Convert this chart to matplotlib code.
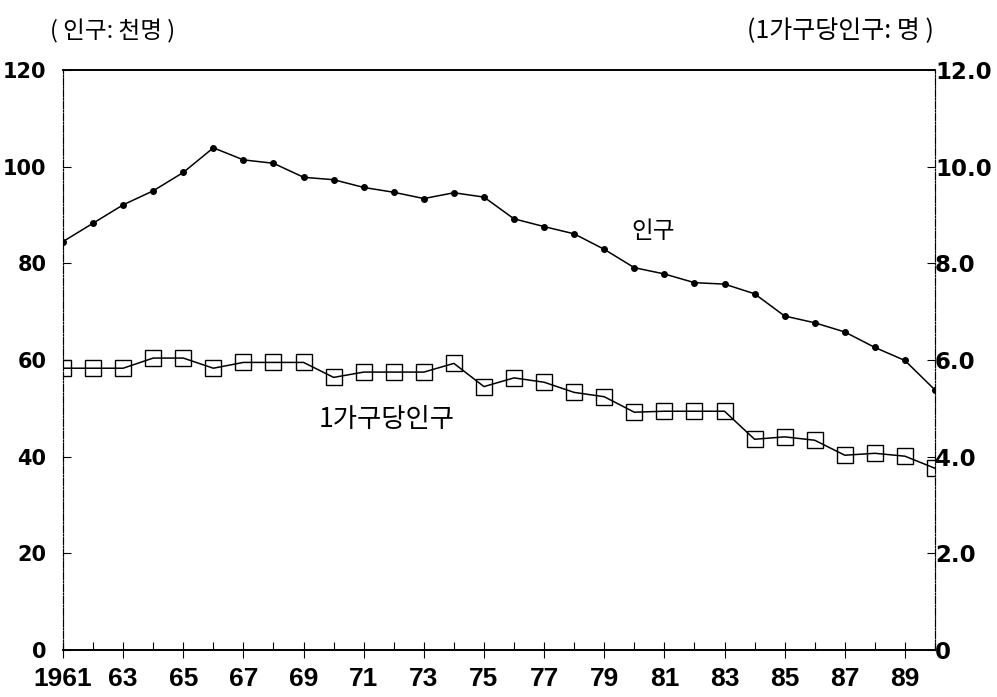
import matplotlib.pyplot as plt
from matplotlib import font_manager
from matplotlib.ticker import FixedLocator, MultipleLocator

plt.rcParams["font.family"] = ["DejaVu Sans", "Noto Sans CJK KR"]

years = list(range(1961, 1991))
population = [
    84.5, 88.3, 92.1, 95.0, 98.8, 103.9, 101.4, 100.7, 97.8, 97.3,
    95.7, 94.7, 93.4, 94.6, 93.7, 89.2, 87.6, 86.1, 82.9, 79.1,
    77.8, 76.0, 75.7, 73.7, 69.1, 67.7, 65.8, 62.6, 59.9, 53.8,
]
per_household = [
    5.83, 5.83, 5.83, 6.04, 6.04, 5.83, 5.95, 5.95, 5.95, 5.64,
    5.75, 5.75, 5.75, 5.93, 5.45, 5.63, 5.54, 5.33, 5.24, 4.92,
    4.94, 4.94, 4.94, 4.36, 4.41, 4.34, 4.03, 4.07, 4.01, 3.76,
]
left_ticks = [0, 20, 40, 60, 80, 100, 120]
right_ticks = [0, 2, 4, 6, 8, 10, 12]
right_labels = ["0", "2.0", "4.0", "6.0", "8.0", "10.0", "12.0"]
x_label_years = list(range(1961, 1990, 2))
x_labels = ["1961"] + [f"{y % 100:02d}" for y in x_label_years[1:]]

# condensed face for the year labels, if present
names = {f.name for f in font_manager.fontManager.ttflist}
narrow = "Liberation Sans Narrow" if "Liberation Sans Narrow" in names else "Liberation Sans"

fig = plt.figure(figsize=(9.97, 6.97), dpi=100)
ax = fig.add_axes([0.0632, 0.0674, 0.8746, 0.8322])
ax2 = ax.twinx()

ax.plot(years, population, color="black", lw=1.1, marker="o", ms=4)
ax2.plot(years, per_household, color="black", lw=1.1, marker="s", ms=11,
         mfc="none", mec="black", mew=1.0)

ax.set_xlim(1961, 1990)
ax.set_ylim(0, 120)
ax2.set_ylim(0, 12)

ax.yaxis.set_major_locator(FixedLocator(left_ticks))
ax2.yaxis.set_major_locator(FixedLocator(right_ticks))
ax2.set_yticklabels(right_labels)
ax.xaxis.set_major_locator(FixedLocator(x_label_years))
ax.set_xticklabels(x_labels)
ax.xaxis.set_minor_locator(MultipleLocator(1))

ax.tick_params(axis="y", direction="in", length=6, width=0.8, labelsize=15, pad=12)
ax2.tick_params(axis="y", direction="in", length=6, width=0.8, labelsize=16.5, pad=0)
ax.tick_params(axis="x", direction="inout", length=12, width=0.8, pad=6)
ax.tick_params(axis="x", which="minor", direction="in", length=6, width=0.8)
for lab in ax.get_yticklabels() + ax2.get_yticklabels():
    lab.set_fontweight("bold")
for lab in ax.get_xticklabels():
    lab.set_fontweight("bold")
    lab.set_family(narrow)
    lab.set_fontsize(19)

for a in (ax, ax2):
    a.spines["left"].set_linestyle("-.")
    a.spines["right"].set_linestyle("-.")
    a.spines["left"].set_linewidth(0.8)
    a.spines["right"].set_linewidth(0.8)
    a.spines["top"].set_linewidth(1.2)
    a.spines["bottom"].set_linewidth(1.2)

ax.text(1979.9, 86.5, "인구", fontsize=17, va="center",
        family=["Noto Sans CJK KR"])
ax.text(1969.5, 47.6, "1가구당인구", fontsize=19, va="center",
        family=["Noto Sans CJK KR"])

fig.text(0.05, 0.955, "( 인구: 천명 )", fontsize=17, family=["Noto Sans CJK KR"],
         va="center")
fig.text(0.937, 0.955, "(1가구당인구: 명 )", fontsize=18,
         family=["Noto Sans CJK KR"], va="center", ha="right")

fig.savefig("out.png", dpi=100)
